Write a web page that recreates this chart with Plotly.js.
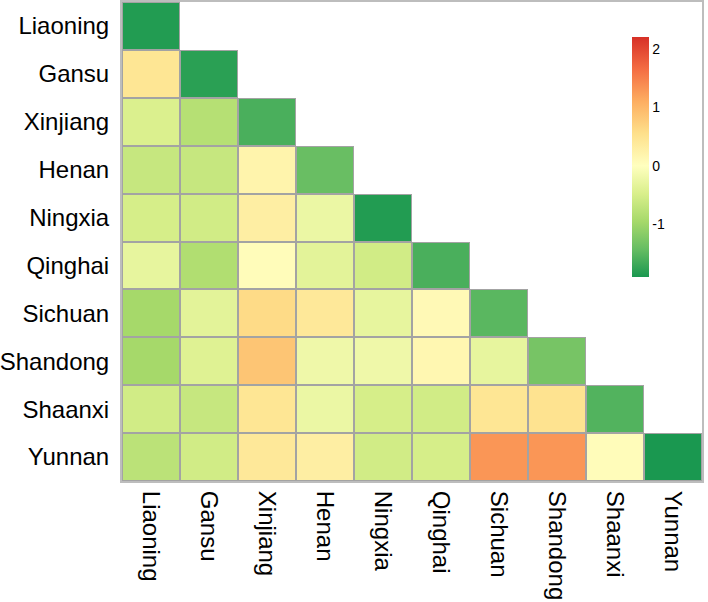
<!DOCTYPE html>
<html>
<head>
<meta charset="utf-8">
<script src="https://cdn.plot.ly/plotly-3.0.1.min.js"></script>
<style>html,body{margin:0;padding:0;background:#fff;}#chart{width:708px;height:602px;}</style>
</head>
<body>
<div id="chart"></div>
<script>
// Province names (rows top->bottom, columns left->right)
const provinces = ["Liaoning","Gansu","Xinjiang","Henan","Ningxia","Qinghai","Sichuan","Shandong","Shaanxi","Yunnan"];

// Lower-triangular matrix values, one row per province (estimated from colours)
const rowLiaoning = [-1.85];
const rowGansu    = [0.45, -1.8];
const rowXinjiang = [-0.45, -0.8, -1.6];
const rowHenan    = [-0.65, -0.65, 0.2, -1.4];
const rowNingxia  = [-0.5, -0.55, 0.3, -0.25, -1.85];
const rowQinghai  = [-0.3, -0.85, 0.05, -0.35, -0.55, -1.6];
const rowSichuan  = [-0.95, -0.35, 0.6, 0.4, -0.3, 0.1, -1.5];
const rowShandong = [-0.95, -0.4, 0.85, -0.2, -0.2, 0.15, -0.3, -1.3];
const rowShaanxi  = [-0.55, -0.65, 0.45, -0.25, -0.5, -0.55, 0.45, 0.5, -1.55];
const rowYunnan   = [-0.75, -0.55, 0.4, 0.3, -0.55, -0.5, 1.3, 1.3, 0.05, -1.9];

const colorTicks = [-1, 0, 1, 2];
const colorTickText = ["-1", "0", "1", "2"];
const zMin = -1.9, zMax = 2.2;

const rows = [rowLiaoning,rowGansu,rowXinjiang,rowHenan,rowNingxia,rowQinghai,rowSichuan,rowShandong,rowShaanxi,rowYunnan];
const zLower = rows.map(r => provinces.map((_, j) => j < r.length ? r[j] : null));
const zUpper = rows.map(r => provinces.map((_, j) => j < r.length ? null : 0));

const f = v => (v - zMin) / (zMax - zMin);
const palette = [
  [-1.9, "#1A9850"], [-1.425, "#66BD63"], [-0.95, "#A6D96A"], [-0.475, "#D9EF8B"],
  [0, "#FFFFBF"], [0.55, "#FEE08B"], [1.1, "#FDAE61"], [1.65, "#F46D43"], [2.2, "#D73027"]
];
const colorscale = palette.map(p => [f(p[0]), p[1]]);

const font = {family: "Liberation Sans, Arial, Helvetica, sans-serif", color: "#000"};

const traces = [
  {
    type: "heatmap", x: provinces, y: provinces, z: zUpper,
    colorscale: [[0, "#ffffff"], [1, "#ffffff"]], showscale: false,
    hoverinfo: "skip", xgap: 0, ygap: 0
  },
  {
    type: "heatmap", x: provinces, y: provinces, z: zLower,
    zmin: zMin, zmax: zMax, colorscale: colorscale,
    xgap: 2, ygap: 2,
    colorbar: {
      x: 0.879, xanchor: "left", xref: "paper",
      y: 0.676, yanchor: "middle", yref: "paper",
      len: 240, lenmode: "pixels", thickness: 17,
      outlinewidth: 0, ticks: "", tickvals: colorTicks, ticktext: colorTickText,
      tickfont: Object.assign({}, font, {size: 14}),
      ypad: 0, xpad: 0
    }
  }
];

const layout = {
  width: 708, height: 602,
  margin: {l: 122, r: 6, t: 2, b: 121},
  paper_bgcolor: "#ffffff",
  plot_bgcolor: "#a3a3a3",
  font: font,
  xaxis: {
    type: "category", tickangle: 90, showgrid: false, zeroline: false,
    showline: true, mirror: true, linecolor: "#bdbdbd", linewidth: 2,
    tickfont: Object.assign({}, font, {size: 24}), ticks: "", ticklabelstandoff: 3
  },
  yaxis: {
    type: "category", autorange: "reversed", showgrid: false, zeroline: false,
    showline: true, mirror: true, linecolor: "#bdbdbd", linewidth: 2,
    tickfont: Object.assign({}, font, {size: 24}), ticks: "", ticklabelstandoff: 6
  }
};

Plotly.newPlot("chart", traces, layout, {displayModeBar: false, staticPlot: true});
</script>
</body>
</html>
